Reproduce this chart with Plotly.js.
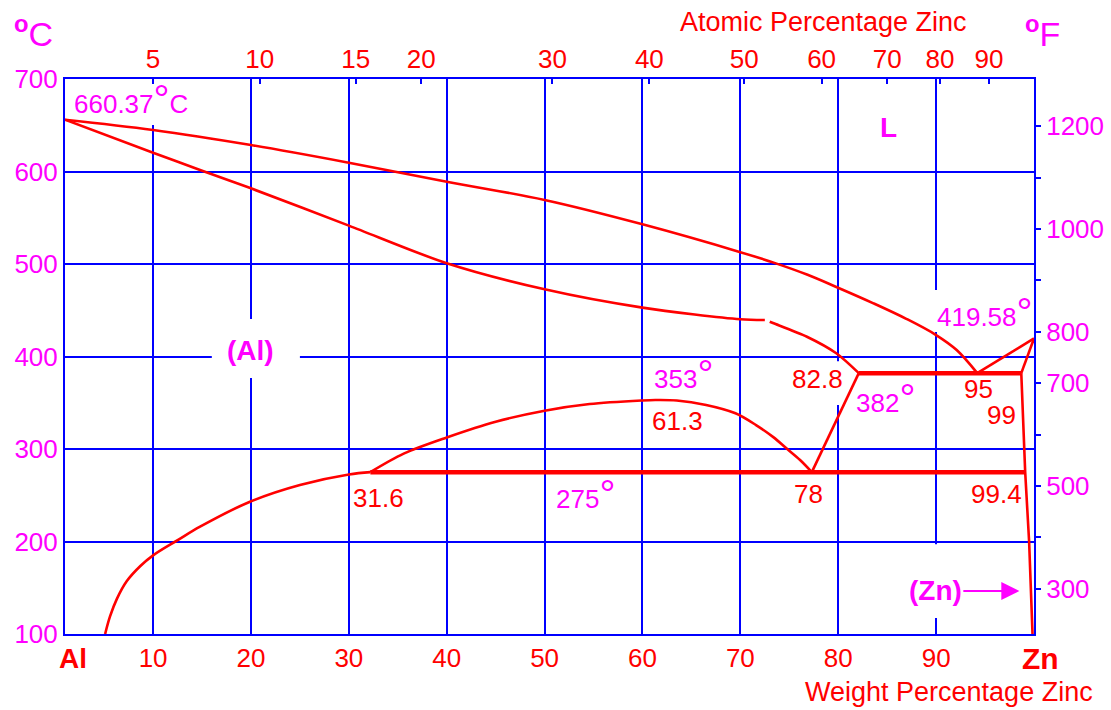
<!DOCTYPE html>
<html>
<head>
<meta charset="utf-8">
<script src="https://cdn.plot.ly/plotly-3.0.1.min.js"></script>
<style>html,body{margin:0;padding:0;background:#fff;}#chart{width:1111px;height:710px;}</style>
</head>
<body>
<div id="chart"></div>
<script>
// ---- axes / ticks ----
const wtTicks = [10, 20, 30, 40, 50, 60, 70, 80, 90];
const tempTicksC = [100, 200, 300, 400, 500, 600, 700];
const atomicLabels = ['5', '10', '15', '20', '30', '40', '50', '60', '70', '80', '90'];
const atomicPosWt = [10.0, 20.9, 30.7, 37.4, 50.8, 60.7, 70.4, 78.3, 85.0, 90.4, 95.4];
const fTicksLabelled = [300, 500, 700, 800, 1000, 1200];
const fMinorStep = 100;
const wtRange = [1, 100];
const cRange = [100, 700];
const fRange = cRange.map(c => c * 9 / 5 + 32);

// ---- phase boundaries (wt% Zn, deg C) ----
const liquidusAlWt = [1, 10, 20, 30, 40, 50, 60, 70, 73.4, 76.8, 79.8, 83.6, 87.0, 90.0, 92.1, 94.2];
const liquidusAlT  = [656, 644.9, 628.6, 609.5, 589, 569.2, 542.9, 512.8, 501.5, 488.6, 475.2, 457.5, 440.5, 423.2, 407, 382];

const solidusAl1Wt = [1, 10, 14.8, 20, 30, 40, 50, 60, 70, 72.5];
const solidusAl1T  = [656, 620.3, 601.6, 581.8, 541.5, 500.8, 472.6, 452.8, 440.3, 439.5];
const solidusAl2Wt = [73.0, 73.4, 76.8, 79.8, 82.1];
const solidusAl2T  = [437.6, 435.9, 421.4, 403.5, 382];

const solvusAlWt = [5.1, 5.6, 6.3, 7.3, 8.7, 10, 12.6, 14.8, 19.9, 25, 30, 32.2];
const solvusAlT  = [100, 119, 138, 157, 173.5, 185, 202, 216, 243, 261.1, 272.5, 275];
const domeWt = [32.2, 35.6, 40, 45, 50, 54.6, 60, 61.3, 63.5, 66.5, 69.5, 71.6, 73.4, 74.7, 76.1, 77.3];
const domeT  = [275, 295, 312.5, 329.5, 341.4, 348.6, 352.5, 353, 352.5, 347.6, 338.6, 325.9, 312.6, 300.8, 288.1, 275];

const vLineWt = [77.3, 82.1];
const vLineT  = [275, 382];

const eutectoidWt = [32.2, 99.1];
const eutectoidT  = [275, 275];
const monotectoidWt = [82.1, 98.7];
const monotectoidT  = [382, 382];

const liquidusZnWt = [94.2, 100];
const liquidusZnT  = [382, 419.58];
const solidusZnWt = [100, 98.7];
const solidusZnT  = [419.58, 382];
const solvusZnWt = [98.7, 99.1, 99.5, 99.85];
const solvusZnT  = [382, 275, 200, 100];

const RED = '#ff0000', BLUE = '#0000ff', MAG = '#ff00ff';
const FONT = 'Liberation Sans, Arial, sans-serif';

function line(x, y, w, smooth) {
  const ln = {color: RED, width: w || 2.6};
  if (smooth) { ln.shape = 'spline'; ln.smoothing = smooth; }
  return {x: x, y: y, type: 'scatter', mode: 'lines', line: ln, hoverinfo: 'skip', showlegend: false};
}

const traces = [
  line(liquidusAlWt, liquidusAlT, 2.6, 1),
  line(solidusAl1Wt, solidusAl1T, 2.6, 0.8),
  line(solidusAl2Wt, solidusAl2T, 2.6, 0.8),
  line(solvusAlWt, solvusAlT, 2.6, 1),
  line(domeWt, domeT, 2.6, 0.9),
  line(vLineWt, vLineT),
  line(eutectoidWt, eutectoidT, 4.5),
  line(monotectoidWt, monotectoidT, 4.5),
  line(liquidusZnWt, liquidusZnT),
  line(solidusZnWt, solidusZnT),
  line(solvusZnWt, solvusZnT),
  {x: wtRange, y: fRange, xaxis: 'x2', yaxis: 'y2', type: 'scatter', mode: 'markers',
   marker: {opacity: 0}, hoverinfo: 'skip', showlegend: false}
];

const DEG = '<span style="font-size:40px">°</span>';
function lab(x, y, text, color, size, extra) {
  return Object.assign({x: x, y: y, xref: 'x', yref: 'y', text: text, showarrow: false,
    xanchor: 'center', yanchor: 'middle', font: {family: FONT, size: size || 26, color: color}}, extra || {});
}
function plab(px, py, text, color, size) {
  return {x: (px - 65) / 969, y: (634 - py) / 555, xref: 'paper', yref: 'paper', text: text,
    showarrow: false, xanchor: 'center', yanchor: 'middle', font: {family: FONT, size: size || 26, color: color}};
}

const annotations = [
  lab(7.74, 678, '660.37' + DEG + 'C', MAG),
  lab(85.1, 648, '<b>L</b>', MAG, 28),
  lab(20.0, 407, '<b>(Al)</b>', MAG, 28),
  lab(94.97, 448, '419.58' + DEG, MAG),
  lab(77.9, 375.7, '82.8', RED),
  lab(84.8, 355, '382' + DEG, MAG),
  lab(94.3, 364.9, '95', RED),
  lab(96.7, 336.8, '99', RED),
  lab(64.2, 381, '353' + DEG, MAG),
  lab(63.6, 330.3, '61.3', RED),
  lab(33.0, 247, '31.6', RED),
  lab(54.2, 251.4, '275' + DEG, MAG),
  lab(77.0, 251.4, '78', RED),
  lab(96.2, 251.4, '99.4', RED),
  {x: 98.5, y: 146.5, xref: 'x', yref: 'y', text: '<b>(Zn)</b>', showarrow: true, ax: -84, ay: 0,
   arrowhead: 2, arrowsize: 1.8, arrowwidth: 2, arrowcolor: MAG, standoff: 0,
   font: {family: FONT, size: 28, color: MAG}},
  plab(73, 658, '<b>Al</b>', RED, 28),
  plab(1040, 658, '<b>Zn</b>', RED, 30),
  plab(823, 22, 'Atomic Percentage Zinc', RED, 27),
  plab(949, 692, 'Weight Percentage Zinc', RED, 27),
  plab(33, 32, '<b><sup>o</sup></b>C', MAG, 34),
  plab(1042, 32, '<b><sup>o</sup></b>F', MAG, 34)
];

// white masks that interrupt the grid behind some labels (drawn between grid and curves)
function mask(x0, x1, y0, y1) {
  return {type: 'rect', xref: 'x', yref: 'y', x0: x0, x1: x1, y0: y0, y1: y1,
          fillcolor: 'white', line: {width: 0}, layer: 'between'};
}
const shapes = [
  mask(1.6, 14.4, 650.3, 697.8),
  mask(16.0, 25.0, 376.8, 440.5),
  mask(89.4, 99.2, 426.5, 471.9),
  mask(78.6, 81.2, 347.6, 395),
  mask(88.8, 90.8, 117.3, 197)
];

const axFont = {family: FONT, size: 26};
const layout = {
  width: 1111, height: 710,
  margin: {l: 65, r: 77, t: 79, b: 76, pad: 0},
  paper_bgcolor: 'white', plot_bgcolor: 'white',
  showlegend: false,
  xaxis: {range: wtRange, tickvals: wtTicks, ticktext: wtTicks.map(String), showgrid: true,
    gridcolor: BLUE, gridwidth: 2, showline: true, linecolor: BLUE, linewidth: 2, mirror: true,
    ticks: '', zeroline: false, tickfont: Object.assign({color: RED}, axFont), fixedrange: true},
  xaxis2: {overlaying: 'x', side: 'top', range: wtRange, tickvals: atomicPosWt, ticktext: atomicLabels,
    ticks: 'inside', ticklen: 5, tickwidth: 2, tickcolor: BLUE, showgrid: false, zeroline: false,
    showline: false, ticklabelstandoff: 5, tickfont: Object.assign({color: RED}, axFont), fixedrange: true},
  yaxis: {range: cRange, tickvals: tempTicksC, ticktext: tempTicksC.map(String), showgrid: true,
    gridcolor: BLUE, gridwidth: 2, showline: true, linecolor: BLUE, linewidth: 2, mirror: true,
    ticks: '', zeroline: false, tickfont: Object.assign({color: MAG}, axFont), fixedrange: true},
  yaxis2: {overlaying: 'y', side: 'right', range: fRange, tickvals: fTicksLabelled,
    ticktext: fTicksLabelled.map(String),
    ticks: 'outside', ticklen: 6, tickwidth: 2, tickcolor: BLUE, showgrid: false, zeroline: false,
    minor: {tick0: 0, dtick: fMinorStep, ticks: 'outside', ticklen: 6, tickwidth: 2, tickcolor: BLUE, showgrid: false},
    showline: false, tickfont: Object.assign({color: MAG}, axFont), fixedrange: true},
  annotations: annotations,
  shapes: shapes
};

Plotly.newPlot('chart', traces, layout, {displayModeBar: false, staticPlot: true});
</script>
</body>
</html>
